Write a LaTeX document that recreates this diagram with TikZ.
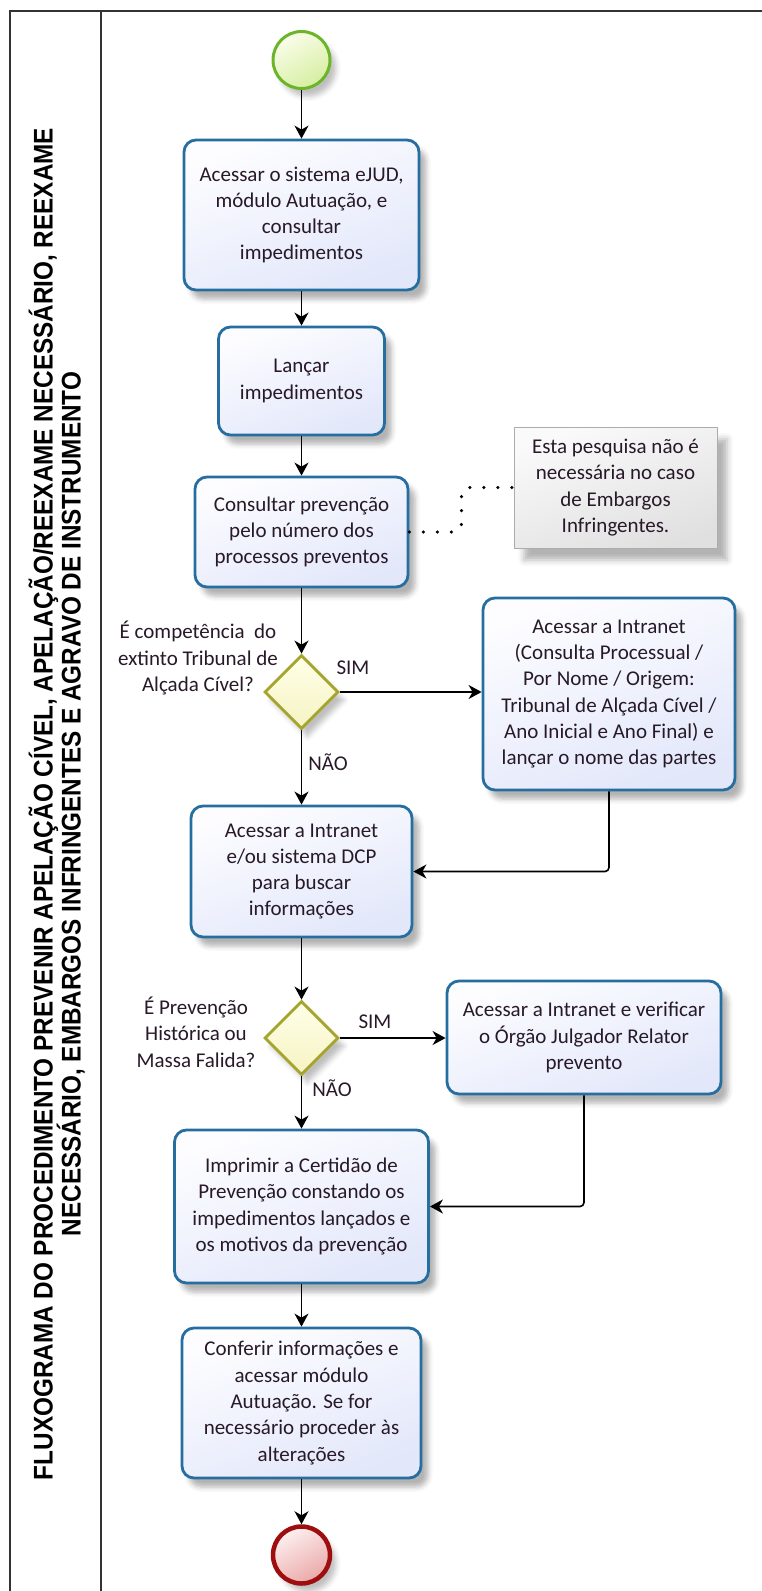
\documentclass[tikz,border=0pt]{standalone}
\usepackage{fontspec}
\setmainfont{Carlito}
\newfontfamily\titlefont[FakeStretch=0.90]{Liberation Sans}
\usetikzlibrary{arrows.meta, shapes.geometric, shadows.blur, calc}

\definecolor{taskline}{RGB}{38,110,160}
\definecolor{tasktop}{RGB}{253,253,255}
\definecolor{taskbot}{RGB}{226,231,250}
\definecolor{gateline}{RGB}{165,165,45}
\definecolor{gatetop}{RGB}{255,255,232}
\definecolor{gatebot}{RGB}{246,243,195}
\definecolor{startline}{RGB}{108,180,40}
\definecolor{starttop}{RGB}{250,253,235}
\definecolor{startbot}{RGB}{214,238,160}
\definecolor{endline}{RGB}{158,14,14}
\definecolor{endtop}{RGB}{253,240,240}
\definecolor{endbot}{RGB}{234,168,168}
\definecolor{txt}{RGB}{40,25,40}

\begin{document}
\begin{tikzpicture}[x=1pt, y=-1pt, font=\fontsize{21}{26.3}\selectfont, text=txt,
  task/.style={draw=taskline, line width=2.8pt, rounded corners=12pt, top color=tasktop, bottom color=taskbot, shading angle=20, align=center, inner sep=3pt,
    blur shadow={shadow xshift=7pt, shadow yshift=-9pt, shadow opacity=30, shadow blur radius=5pt}},
  gate/.style={diamond, aspect=1, minimum width=74pt, minimum height=74pt, inner sep=0pt, draw=gateline, line width=2.8pt, top color=gatetop, bottom color=gatebot,
    blur shadow={shadow xshift=6pt, shadow yshift=-8pt, shadow opacity=25, shadow blur radius=5pt}},
  startev/.style={circle, minimum size=57pt, inner sep=0pt, draw=startline, line width=3pt, top color=starttop, bottom color=startbot, shading angle=30,
    blur shadow={shadow xshift=6pt, shadow yshift=-8pt, shadow opacity=25, shadow blur radius=5pt}},
  endev/.style={circle, minimum size=57pt, inner sep=0pt, draw=endline, line width=4.5pt, top color=endtop, bottom color=endbot, shading angle=30,
    blur shadow={shadow xshift=6pt, shadow yshift=-8pt, shadow opacity=25, shadow blur radius=5pt}},
  note/.style={draw=gray!65, line width=0.8pt, top color=gray!4, bottom color=gray!24, shading angle=20, align=center, inner sep=3pt,
    blur shadow={shadow xshift=10pt, shadow yshift=-12pt, shadow opacity=30, shadow blur radius=6pt}},
  flow/.style={-{Stealth[length=13pt, width=14pt, inset=4pt]}, line width=1.6pt, black},
  notelink/.style={line width=3.5pt, line cap=round, dash pattern=on 0pt off 14pt, rounded corners=8pt},
  question/.style={align=center, inner sep=0pt},
  titletext/.style={rotate=90, anchor=base, inner sep=0pt, text=black, font=\titlefont\bfseries\fontsize{27}{30}\selectfont}]

\useasboundingbox (0,0) rectangle (761,1591);

% lane frame and title
\draw[line width=2.5pt, black!80] (770,11) -- (10,11) -- (10,1600);
\draw[line width=2pt, black!80] (101,11) -- (101,1600);
\node[titletext] (T1) at (52.5,804) {FLUXOGRAMA DO PROCEDIMENTO PREVENIR APELAÇÃO CÍVEL, APELAÇÃO/REEXAME NECESSÁRIO, REEXAME};
\node[titletext] (T2) at (80.5,804) {NECESSÁRIO, EMBARGOS INFRINGENTES E AGRAVO DE INSTRUMENTO};

% events, tasks and gateways
\node[startev] (I) at (301.5,60) {};
\node[task, minimum width=235pt, minimum height=150pt] (A) at (301.5,215) {Acessar o sistema eJUD,\\módulo Autuação, e\\consultar\\impedimentos};
\node[task, minimum width=166pt, minimum height=108pt] (B) at (301.5,381) {Lançar\\impedimentos};
\node[task, minimum width=213pt, minimum height=110pt] (C) at (301.5,532) {Consultar prevenção\\pelo número dos\\processos preventos};
\node[note, minimum width=203pt, minimum height=121pt] (N) at (615.5,487.5) {Esta pesquisa não é\\necessária no caso\\de Embargos\\Infringentes.};
\node[gate] (P) at (301.5,692) {};
\node[question] (P1) at (198,658) {É competência \ do\\extinto Tribunal de\\Alçada Cível?};
\node[task, minimum width=252pt, minimum height=192pt] (D) at (609,694) {Acessar a Intranet\\(Consulta Processual /\\Por Nome / Origem:\\Tribunal de Alçada Cível /\\Ano Inicial e Ano Final) e\\lançar o nome das partes};
\node[task, minimum width=221pt, minimum height=131pt] (E) at (301.5,871.5) {Acessar a Intranet\\e/ou sistema DCP\\para buscar\\informações};
\node[gate] (Q) at (301.5,1038) {};
\node[question] (Q1) at (196,1032) {É Prevenção\\Histórica ou\\Massa Falida?};
\node[task, minimum width=274pt, minimum height=113pt] (F) at (584,1037.5) {Acessar a Intranet e verificar\\o Órgão Julgador Relator\\prevento};
\node[task, minimum width=254pt, minimum height=153pt] (G) at (301.5,1206.5) {Imprimir a Certidão de\\Prevenção constando os\\impedimentos lançados e\\os motivos da prevenção};
\node[task, minimum width=239pt, minimum height=150pt] (H) at (301.5,1403) {Conferir informações e\\acessar módulo\\Autuação. Se for\\necessário proceder às\\alterações};
\node[endev] (Z) at (301.5,1555) {};

% gateway labels
\node (S1) at (353,668) {SIM};
\node (N1) at (328,762) {NÃO};
\node (S2) at (375,1022) {SIM};
\node (N2) at (332,1088) {NÃO};

% connectors
\draw[flow] (I) -- (A);
\draw[flow] (A) -- (B);
\draw[flow] (B) -- (C);
\draw[flow] (C) -- (P);
\draw[flow] (P.east) -- (P.east -| D.west);
\draw[flow] (P) -- (E);
\draw[flow, rounded corners=4pt] (D) |- (E);
\draw[flow] (E) -- (Q);
\draw[flow] (Q.east) -- (Q.east -| F.west);
\draw[flow] (Q) -- (G);
\draw[flow, rounded corners=4pt] (F) |- (G);
\draw[flow] (G) -- (H);
\draw[flow] (H) -- (Z);
\draw[notelink] (C.east) -| ($(C.east)!0.5!(N.west)$) |- (N.west);

\end{tikzpicture}
\end{document}
